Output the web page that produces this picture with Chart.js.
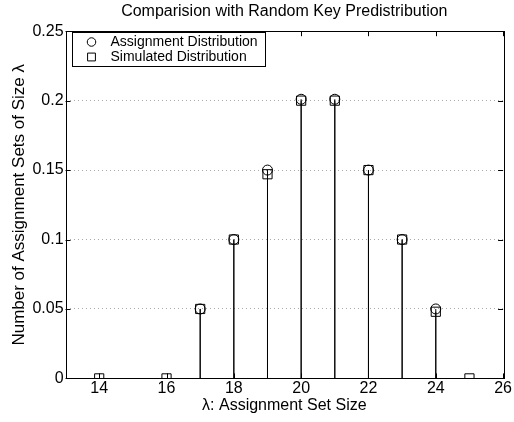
<!DOCTYPE html>
<html>
<head>
<meta charset="utf-8">
<script src="https://cdn.jsdelivr.net/npm/chart.js@4/dist/chart.umd.min.js"></script>
<style>
  html, body { margin: 0; padding: 0; background: #fff; overflow: hidden; }
</style>
</head>
<body>
<!-- a little wider than the window so the "26" label is cut at the edge, as in the original -->
<canvas id="c" width="517" height="422"></canvas>
<script>
/* chart values */
const assignX = [17, 18, 19, 20, 21, 22, 23, 24];
const assignY = [0.05, 0.1, 0.15, 0.201, 0.201, 0.15, 0.1, 0.05];
const simX = [14, 16, 17, 18, 19, 20, 21, 22, 23, 24, 25];
const simY = [0, 0, 0.05, 0.1, 0.147, 0.2, 0.2, 0.15, 0.1, 0.048, 0];
const xTicks = [14, 16, 18, 20, 22, 24, 26];
const yTicks = [0, 0.05, 0.1, 0.15, 0.2, 0.25];

const FONT = 'Liberation Sans, Arial, Helvetica, sans-serif';

/* stems: vertical segments from 0 to the value, split by null gaps */
function stems(xs, ys) {
  let pts = [];
  for (let i = 0; i < xs.length; i++) {
    if (ys[i] === 0) continue;
    pts.push({x: xs[i], y: 0}, {x: xs[i], y: ys[i]}, {x: xs[i], y: null});
  }
  return pts;
}
function points(xs, ys) {
  return xs.map((v, i) => ({x: v, y: ys[i]}));
}

/* inward ticks on all four sides, plus the box round the plot */
const boxTicks = {
  id: 'boxTicks',
  afterDatasetsDraw(chart) {
    const ctx = chart.ctx, a = chart.chartArea;
    const sx = chart.scales.x, sy = chart.scales.y;
    ctx.save();
    ctx.strokeStyle = '#000';
    ctx.lineWidth = 1;
    ctx.beginPath();
    xTicks.forEach(v => {
      let px = Math.round(sx.getPixelForValue(v)) + 0.5;
      ctx.moveTo(px, a.bottom); ctx.lineTo(px, a.bottom - 5);
      ctx.moveTo(px, a.top); ctx.lineTo(px, a.top + 5);
    });
    yTicks.forEach(v => {
      let py = Math.round(sy.getPixelForValue(v)) + 0.5;
      ctx.moveTo(a.left, py); ctx.lineTo(a.left + 5, py);
      ctx.moveTo(a.right, py); ctx.lineTo(a.right - 5, py);
    });
    ctx.stroke();
    ctx.strokeRect(Math.round(a.left) + 0.5, Math.round(a.top) + 0.5,
      Math.round(a.right - a.left), Math.round(a.bottom - a.top));
    ctx.restore();
  }
};

/* legend box inside the plot, top left */
const boxLegend = {
  id: 'boxLegend',
  afterDraw(chart) {
    const ctx = chart.ctx, a = chart.chartArea;
    const x0 = Math.round(a.left) + 6.5, y0 = Math.round(a.top) + 1.5;
    const w = 193, h = 34;
    ctx.save();
    ctx.fillStyle = '#fff';
    ctx.fillRect(x0, y0, w, h);
    ctx.strokeStyle = '#000';
    ctx.lineWidth = 1;
    ctx.strokeRect(x0, y0, w, h);
    const rows = [chart.data.datasets[2], chart.data.datasets[3]];
    rows.forEach((ds, i) => {
      const cy = y0 + 9.5 + i * 15;
      ctx.fillStyle = 'rgba(0,0,0,0)';
      Chart.helpers.drawPoint(ctx, {pointStyle: ds.pointStyle, radius: ds.pointRadius * 0.85, borderWidth: 1}, x0 + 19, cy);
      ctx.font = '14px ' + FONT;
      ctx.fillStyle = '#000';
      ctx.textBaseline = 'middle';
      ctx.fillText(ds.label, x0 + 38, cy);
    });
    ctx.restore();
  }
};

new Chart(document.getElementById('c'), {
  type: 'scatter',
  data: {
    datasets: [
      {label: 'stemA', data: stems(assignX, assignY), showLine: true, spanGaps: false,
        borderColor: '#000', borderWidth: 1, pointRadius: 0},
      {label: 'stemS', data: stems(simX, simY), showLine: true, spanGaps: false,
        borderColor: '#000', borderWidth: 1, pointRadius: 0},
      {label: 'Assignment Distribution', data: points(assignX, assignY), pointStyle: 'circle',
        pointRadius: 5, borderColor: '#000', borderWidth: 1, backgroundColor: 'rgba(0,0,0,0)'},
      {label: 'Simulated Distribution', data: points(simX, simY), pointStyle: 'rect',
        pointRadius: 6.5, borderColor: '#000', borderWidth: 1, backgroundColor: 'rgba(0,0,0,0)'}
    ]
  },
  options: {
    responsive: false,
    animation: false,
    devicePixelRatio: 1,
    layout: {padding: {left: 9, right: 0, top: 0, bottom: 8}},
    plugins: {
      legend: {display: false},
      tooltip: {enabled: false},
      title: {
        display: true,
        fullSize: false,
        text: 'Comparision with Random Key Predistribution',
        color: '#000',
        font: {family: FONT, size: 16, weight: 'normal'},
        padding: {top: 2, bottom: 10}
      }
    },
    scales: {
      x: {
        type: 'linear', min: 13, max: 26,
        afterBuildTicks: s => { s.ticks = xTicks.map(v => ({value: v})); },
        grid: {drawOnChartArea: false, drawTicks: false},
        border: {display: false},
        ticks: {color: '#000', font: {family: FONT, size: 16, lineHeight: 0.6}, padding: 5, maxRotation: 0},
        title: {display: true, text: 'λ: Assignment Set Size', color: '#000',
          font: {family: FONT, size: 16, lineHeight: 1}, padding: {top: 0, bottom: 0}}
      },
      y: {
        min: 0, max: 0.25,
        afterBuildTicks: s => { s.ticks = yTicks.map(v => ({value: v})); },
        grid: {drawTicks: false, color: '#aaa'},
        border: {display: false, dash: [1, 3]},
        ticks: {color: '#000', font: {family: FONT, size: 16}, padding: 2,
          callback: v => String(+v.toFixed(2))},
        title: {display: true, text: 'Number of Assignment Sets of Size λ', color: '#000',
          font: {family: FONT, size: 17}, padding: {top: 0, bottom: 1}}
      }
    }
  },
  plugins: [boxTicks, boxLegend]
});
</script>
</body>
</html>
